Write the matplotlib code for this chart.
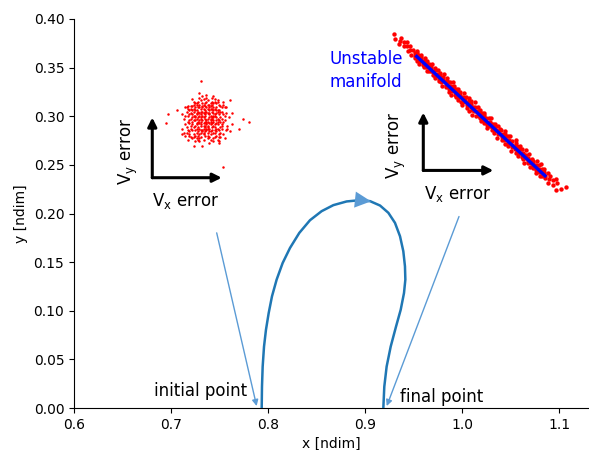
import numpy as np
import matplotlib
matplotlib.use("Agg")
import matplotlib.pyplot as plt

# ---------------- data ----------------
traj_x = [0.7935, 0.7938, 0.7945, 0.7959, 0.7979, 0.8007, 0.8041, 0.8089, 0.8151, 0.8227,
          0.8323, 0.8433, 0.8553, 0.8674, 0.8811, 0.8948, 0.9052, 0.9155, 0.9241, 0.9309,
          0.9361, 0.9395, 0.9412, 0.9416, 0.9402, 0.9368, 0.9320, 0.9265, 0.9223, 0.9199, 0.9189]
traj_y = [0.0000, 0.0220, 0.0426, 0.0632, 0.0804, 0.0976, 0.1148, 0.1320, 0.1491, 0.1646,
          0.1801, 0.1931, 0.2024, 0.2086, 0.2124, 0.2137, 0.2127, 0.2082, 0.2007, 0.1904,
          0.1766, 0.1612, 0.1457, 0.1320, 0.1182, 0.1010, 0.0838, 0.0632, 0.0426, 0.0220, 0.0000]

# initial-state dispersion cloud: offsets (units of cloud1_unit) around its centre
cloud1_center = (0.735, 0.296)
cloud1 = [
    (3, 5), (-7, 2), (12, -4), (-1, -9), (5, 11), (-14, 3), (8, -6), (0, 1), (-4, -13), (9, 7),
    (-11, -2), (2, 14), (6, -1), (-3, 6), (15, 9), (-8, -10), (1, -3), (-6, 12), (10, 0), (-2, -7),
    (4, 3), (-12, 8), (7, -12), (-5, -1), (13, 4), (-9, 15), (0, -5), (3, -16), (-16, -6), (11, 10),
    (-1, 2), (6, 7), (-7, -4), (2, -11), (9, 13), (-4, 0), (18, -8), (-10, 5), (5, -2), (-2, 9),
    (-13, -9), (8, 2), (1, 18), (-6, -3), (14, -13), (-3, 4), (7, 8), (-9, -7), (0, 10), (11, -5),
    (-5, 6), (4, -8), (-15, 1), (2, 5), (10, -10), (-8, 11), (6, 3), (-1, -14), (-12, -1), (3, 7),
    (17, 2), (-4, -6), (8, 12), (-7, 9), (1, -2), (-10, -12), (12, 6), (-3, -4), (5, 16), (-11, 4),
    (9, -3), (0, -8), (-6, 1), (4, 10), (-14, -11), (7, -7), (-2, 3), (13, -1), (-8, 6), (2, -5),
    (-5, 13), (10, 4), (-1, -10), (6, -13), (-9, 2), (3, 9), (-20, 7), (11, -9), (-4, 11), (8, -2),
    (0, 4), (-7, -15), (15, 5), (-3, -1), (5, 1), (-12, 10), (1, -6), (9, 14), (-6, -9), (4, 0),
    (-2, 17), (12, -6), (-10, -4), (7, 3), (-1, 8), (3, -12), (-8, 0), (14, 9), (-5, -5), (0, 12),
    (6, -4), (-11, -8), (2, 1), (10, 7), (-4, -2), (-16, 4), (8, -11), (-3, 14), (5, -7), (1, 6),
    (-9, -13), (11, 2), (-6, 5), (4, -3), (-2, -18), (19, -3), (-7, 3), (0, -1), (13, 11), (-13, -5),
    (3, 2), (-5, 9), (7, -9), (-1, 5), (9, -14), (-10, 8), (2, -4), (6, 12), (-4, -10), (24, -6),
    (-8, 13), (1, -7), (-28, -2), (5, 6), (-3, -3), (12, 1), (-12, -14), (8, 9), (-6, -6), (0, 7),
    (4, -10), (-9, 4), (10, -7), (-2, 0), (7, 15), (-15, -9), (3, -2), (-7, 7), (16, -4), (-1, 11),
    (2, -9), (-4, 3), (6, 5), (-11, 0), (9, -1), (-3, -12), (4, 8), (-6, -2), (1, 13), (11, -12),
    (-8, -5), (5, 2), (-2, 6), (14, 0), (-10, 10), (0, -4), (7, -5), (-5, -8), (3, 11), (-13, 6),
    (8, 5), (-1, -6), (18, 14), (-7, -11), (2, 8), (-4, 16), (10, -15), (-9, -1), (6, 0), (-3, 2),
    (2, -1), (-3, 8), (6, -9), (-8, 3), (4, 12), (-1, -4), (9, 1), (-5, -11), (1, 9), (-10, -6),
    (7, 4), (-2, -8), (12, -3), (-6, 7), (3, -6), (-9, 10), (5, 8), (0, -11), (-4, 5), (8, -8),
    (-7, 0), (11, 6), (-1, 15), (4, -14), (-12, 3), (10, 11), (-3, -9), (6, 2), (-8, -12), (2, 11),
    (-5, 2), (13, -10), (-11, 7), (1, -1), (7, 13), (-6, -13), (3, 4), (-14, -3), (9, -6), (-2, 12),
    (5, -5), (-9, -3), (0, 6), (12, 9), (-4, -15), (8, 0), (-7, 12), (2, -13), (-13, 9), (6, 9),
    (-1, -2), (10, -12), (-6, 4), (4, 1), (-10, 1), (1, 16), (-3, -7), (15, -7), (-8, 8), (3, -8),
    (-5, -14), (11, -1), (-2, 10), (7, -3), (-11, -10), (0, 3), (5, 13), (-7, -7), (9, 6), (-4, 9),
    (14, 3), (-12, -7), (2, -6), (6, -15), (-9, 7), (1, 0), (-6, 11), (8, 7), (-3, 1), (4, -1),
    (13, 13), (-11, -11), (-14, 9), (16, -6), (-4, 19), (10, -16), (-16, -10), (6, 17), (19, 5), (-8, -18),
    (13, -33), (-3, 28), (27, 1), (31, -1), (-26, 4),
]
cloud1_unit = 0.00145

# final-state dispersion along the unstable manifold:
# (percent along manifold segment, perpendicular offset in thousandths)
manifold_start = (0.9533, 0.3615)
manifold_end = (1.0856, 0.2388)
cloud2 = [
    (-18, 1), (-16, -2), (-14, 3), (-13, 0), (-12, -3), (-11, 2), (-10, 4), (-9, -1), (-8, 1), (-7, 3),
    (-6, -2), (-5, 0), (-4, 2), (-3, -3), (-2, 4), (-2, 1), (-1, -1), (-1, 3),
    (0, 2), (0, -2), (1, 4), (1, 0), (2, -3), (2, 3), (3, 1), (3, -1), (4, 5), (4, -4),
    (5, 2), (5, 0), (6, -2), (6, 4), (7, 1), (7, -3), (8, 3), (8, -1), (9, 5), (9, 0),
    (10, -4), (10, 2), (11, 1), (11, -2), (12, 4), (12, -1), (13, 0), (13, 3), (14, -3), (14, 5),
    (15, 1), (15, -2), (16, 4), (16, -4), (17, 0), (17, 2), (18, -1), (18, 6), (19, 3), (19, -3),
    (20, 1), (20, -2), (21, 5), (21, 0), (22, -4), (22, 3), (23, 2), (23, -1), (24, 4), (24, -3),
    (25, 0), (25, 6), (26, -2), (26, 2), (27, 4), (27, -4), (28, 1), (28, -1), (29, 3), (29, -5),
    (30, 0), (30, 5), (31, -2), (31, 2), (32, 4), (32, -3), (33, 1), (33, -1), (34, 6), (34, -4),
    (35, 2), (35, 0), (36, -3), (36, 4), (37, 1), (37, -2), (38, 5), (38, -5), (39, 0), (39, 3),
    (40, -1), (40, 4), (41, 2), (41, -3), (42, 0), (42, 6), (43, -4), (43, 1), (44, 3), (44, -2),
    (45, 5), (45, -1), (46, 0), (46, -5), (47, 2), (47, 4), (48, -3), (48, 1), (49, -1), (49, 3),
    (50, 5), (50, -2), (51, 0), (51, 3), (52, -4), (52, 1), (53, 2), (53, -1), (54, 4), (54, -3),
    (55, 0), (55, 6), (56, -2), (56, 2), (57, -5), (57, 1), (58, 3), (58, -1), (59, 0), (59, 4),
    (60, -3), (60, 2), (61, 5), (61, -1), (62, 0), (62, -4), (63, 3), (63, 1), (64, -2), (64, 4),
    (65, 0), (65, -5), (66, 2), (66, 6), (67, -1), (67, 3), (68, -3), (68, 1), (69, 4), (69, -2),
    (70, 0), (70, 5), (71, -4), (71, 2), (72, 1), (72, -1), (73, 3), (73, -3), (74, 6), (74, 0),
    (75, -2), (75, 4), (76, 1), (76, -5), (77, 3), (77, -1), (78, 0), (78, 5), (79, -3), (79, 2),
    (80, 4), (80, -1), (81, 0), (81, -4), (82, 2), (82, 6), (83, -2), (83, 1), (84, 3), (84, -3),
    (85, 0), (85, 5), (86, -5), (86, 2), (87, 1), (87, -1), (88, 4), (88, -2), (89, 0), (89, 3),
    (90, -4), (90, 1), (91, 5), (91, -1), (92, 2), (92, -3), (93, 0), (93, 4), (94, -2), (94, 6),
    (95, 1), (95, -4), (96, 3), (96, -1), (97, 0), (97, 5), (98, -3), (98, 2), (99, 1), (99, -2),
    (100, 4), (100, 0),
    (101, -2), (102, 3), (103, 0), (104, -4), (105, 2), (106, 5), (107, -1), (108, 3), (110, -3), (112, 1), (113, 6),
]

x_ticks = [0.6, 0.7, 0.8, 0.9, 1.0, 1.1]
y_ticks = [0.00, 0.05, 0.10, 0.15, 0.20, 0.25, 0.30, 0.35, 0.40]

# ---------------- figure ----------------
W, H = 589, 450
fig = plt.figure(figsize=(W / 100, H / 100), dpi=100)
ax = fig.add_axes([74 / W, (H - 408) / H, (W - 74) / W, (408 - 19) / H])
ax.set_xlim(0.6, 0.6 + 515 / 970)
ax.set_ylim(0.0, 0.4)
ax.spines['top'].set_visible(False)
ax.spines['right'].set_visible(False)
ax.set_xticks(x_ticks)
ax.set_yticks(y_ticks)
ax.set_xticklabels([f"{v:.1f}" for v in x_ticks])
ax.set_yticklabels([f"{v:.2f}" for v in y_ticks])
ax.set_xlabel("x [ndim]")
ax.set_ylabel("y [ndim]")

# trajectory
ax.plot(traj_x, traj_y, color='#1f77b4', lw=1.8, solid_capstyle='butt', zorder=3)
ax.annotate('', xy=(0.9062, 0.2125), xytext=(0.895, 0.2137),
            arrowprops=dict(arrowstyle='-|>', color='#5b9bd5', lw=0, mutation_scale=29,
                            shrinkA=0, shrinkB=0), zorder=4)

# cloud 1
c1 = np.array(cloud1, dtype=float) * cloud1_unit
ax.scatter(cloud1_center[0] + c1[:, 0], cloud1_center[1] + c1[:, 1], s=3.2, c='red',
           linewidths=0, zorder=2)

# cloud 2 along manifold
p0 = np.array(manifold_start)
p1 = np.array(manifold_end)
dvec = p1 - p0
perp = np.array([-dvec[1], dvec[0]]) / np.hypot(*dvec)
c2 = np.array(cloud2, dtype=float)
pts = p0[None, :] + (c2[:, 0:1] / 100.0) * dvec[None, :] + (c2[:, 1:2] / 1000.0) * perp[None, :]
ax.scatter(pts[:, 0], pts[:, 1], s=10, c='red', linewidths=0, zorder=2)
ax.plot([p0[0], p1[0]], [p0[1], p1[1]], color='blue', lw=2.4, zorder=3)
ax.text(0.8629, 0.3536, "Unstable", color='blue', fontsize=12)
ax.text(0.8629, 0.3296, "manifold", color='blue', fontsize=12)

# inset axes arrows
def error_axes(corner, xtip, ytip):
    kw = dict(arrowstyle='-|>', color='black', lw=2.2, mutation_scale=13, shrinkA=0, shrinkB=0)
    ax.annotate('', xy=(corner[0], ytip), xytext=corner, arrowprops=kw)
    ax.annotate('', xy=(xtip, corner[1]), xytext=corner, arrowprops=kw)

error_axes((0.6807, 0.2368), 0.7523, 0.2987)
error_axes((0.9601, 0.2443), 1.0323, 0.3038)

ax.text(0.7155, 0.2082, r"V$_\mathregular{x}$ error", fontsize=12, ha='center', va='baseline')
ax.text(0.656, 0.2634, r"V$_\mathregular{y}$ error", fontsize=12, ha='center', va='center', rotation=90)
ax.text(0.9954, 0.2144, r"V$_\mathregular{x}$ error", fontsize=12, ha='center', va='baseline')
ax.text(0.9327, 0.2696, r"V$_\mathregular{y}$ error", fontsize=12, ha='center', va='center', rotation=90)

# pointer arrows
pkw = dict(arrowstyle='-|>', color='#5b9bd5', lw=1.0, mutation_scale=9, shrinkA=0, shrinkB=0)
ax.annotate('', xy=(0.7883, 0.002), xytext=(0.7471, 0.1801), arrowprops=pkw)
ax.annotate('', xy=(0.9224, 0.002), xytext=(0.9969, 0.1969), arrowprops=pkw)

ax.text(0.6825, 0.012, "initial point", fontsize=12, va='baseline')
ax.text(0.9361, 0.0065, "final point", fontsize=12, va='baseline')

fig.savefig("out.png", dpi=100)
